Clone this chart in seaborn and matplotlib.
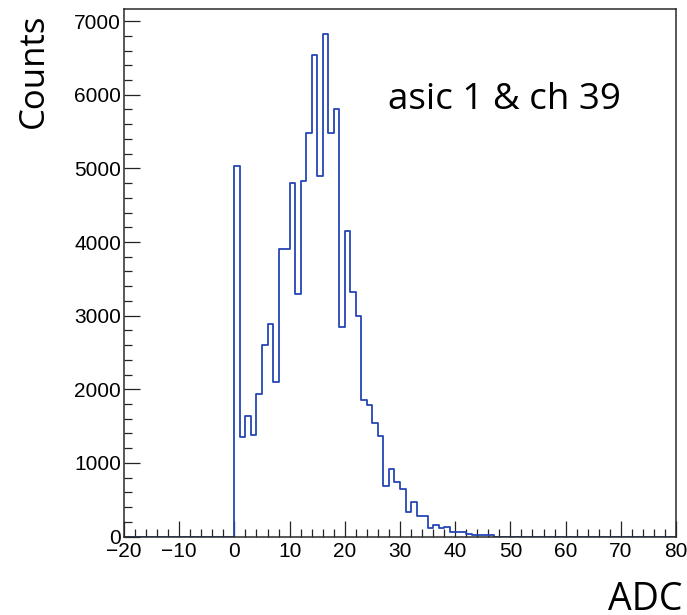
import numpy as np
import pandas as pd
import matplotlib
matplotlib.use("Agg")
import matplotlib.pyplot as plt
from matplotlib.ticker import MultipleLocator
import seaborn as sns

# ---- data ----
bin_left_edges = list(range(0, 47))
counts = [5030, 1350, 1640, 1375, 1930, 2600, 2890, 2100, 3900, 3900,
          4800, 3300, 4830, 5480, 6540, 4890, 6820, 5480, 5800, 2850,
          4150, 3320, 2990, 1860, 1790, 1540, 1370, 680, 920, 740,
          640, 330, 470, 285, 285, 120, 150, 120, 130, 65,
          65, 65, 40, 25, 25, 25, 25]
x_range = (-20, 80)
x_label = "ADC"
y_label = "Counts"
annotation = "asic 1 & ch 39"

sns.set_style("white")
plt.rcParams["font.family"] = ["Liberation Sans", "DejaVu Sans"]
plt.rcParams["text.color"] = "black"
plt.rcParams["xtick.color"] = "black"
plt.rcParams["ytick.color"] = "black"
plt.rcParams["xtick.labelcolor"] = "black"
plt.rcParams["ytick.labelcolor"] = "black"

fig = plt.figure(figsize=(6.87, 6.15), dpi=100)
ax = fig.add_axes([124 / 687, 1 - 536.5 / 615, (676 - 124) / 687, (536.5 - 9.3) / 615])

df = pd.DataFrame({"adc": np.array(bin_left_edges, dtype=float) + 0.5,
                   "counts": np.array(counts, dtype=float)})
sns.histplot(data=df, x="adc", weights="counts",
             bins=x_range[1] - x_range[0], binrange=x_range,
             element="step", fill=False, color="#2546b4", linewidth=1.3, ax=ax)

ax.set_xlim(*x_range)
ax.set_ylim(0, 1.05 * max(counts))
ax.set_xlabel("")
ax.set_ylabel("")

ax.xaxis.set_major_locator(MultipleLocator(10))
ax.xaxis.set_minor_locator(MultipleLocator(2))
ax.yaxis.set_major_locator(MultipleLocator(1000))
ax.yaxis.set_minor_locator(MultipleLocator(200))
ax.tick_params(axis="x", which="major", direction="in", length=11.5, width=0.9,
               color="#222222", labelsize=15, pad=4, bottom=True, top=False)
ax.tick_params(axis="x", which="minor", direction="in", length=5.8, width=0.9,
               color="#222222", bottom=True, top=False)
ax.tick_params(axis="y", which="major", direction="in", length=11.5, width=0.9,
               color="#222222", labelsize=15, pad=2, left=True, right=False)
ax.tick_params(axis="y", which="minor", direction="in", length=5.8, width=0.9,
               color="#222222", left=True, right=False)
for s in ax.spines.values():
    s.set_visible(True)
    s.set_color("#2a2a2a")
    s.set_linewidth(1.1)
    s.set_zorder(3)

fig.text(17 / 687, 1 - 14 / 615, y_label, rotation=90, ha="left", va="top",
         fontsize=25, color="black", family=["Open Sans", "DejaVu Sans"])
fig.text(682 / 687, 1 - 610 / 615, x_label, ha="right", va="baseline",
         fontsize=27, color="black", family=["Open Sans", "DejaVu Sans"])
fig.text(388 / 687, 1 - 109.3 / 615, annotation, ha="left", va="baseline",
         fontsize=26.5, color="black", family=["Open Sans", "DejaVu Sans"])

fig.savefig("out.png", dpi=100)
